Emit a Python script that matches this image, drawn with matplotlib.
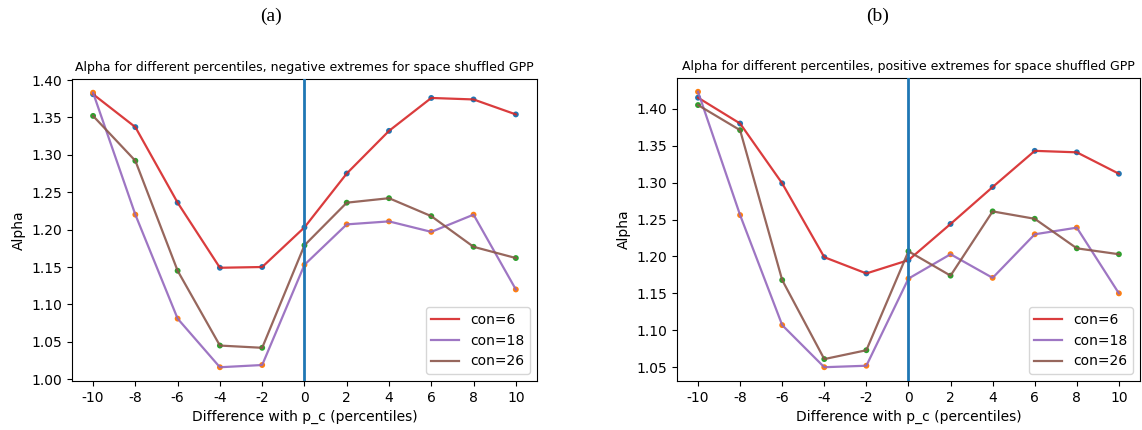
import matplotlib.pyplot as plt
import numpy as np

plt.rcParams['axes.unicode_minus'] = False

# percentile offsets from p_c
diff = [-10, -8, -6, -4, -2, 0, 2, 4, 6, 8, 10]
cons = ['con=6', 'con=18', 'con=26']

# (a) negative extremes
neg_con6 = [1.381, 1.337, 1.236, 1.149, 1.150, 1.203, 1.275, 1.332, 1.376, 1.374, 1.354]
neg_con18 = [1.383, 1.220, 1.081, 1.016, 1.019, 1.153, 1.207, 1.211, 1.197, 1.220, 1.120]
neg_con26 = [1.352, 1.292, 1.145, 1.045, 1.042, 1.179, 1.236, 1.242, 1.218, 1.177, 1.162]

# (b) positive extremes
pos_con6 = [1.415, 1.380, 1.299, 1.199, 1.177, 1.195, 1.244, 1.294, 1.343, 1.341, 1.312]
pos_con18 = [1.423, 1.256, 1.107, 1.050, 1.052, 1.170, 1.203, 1.171, 1.230, 1.239, 1.150]
pos_con26 = [1.405, 1.371, 1.168, 1.061, 1.073, 1.207, 1.174, 1.261, 1.251, 1.211, 1.203]

titles = ['Alpha for different percentiles, negative extremes for space shuffled GPP',
          'Alpha for different percentiles, positive extremes for space shuffled GPP']
panel_labels = ['(a)', '(b)']

line_colors = ['tab:red', 'tab:purple', 'tab:brown']
dot_colors = ['tab:blue', 'tab:orange', 'tab:green']

fig = plt.figure(figsize=(11.42, 4.30), dpi=100)
ax1 = fig.add_axes([0.0630, 0.114, 0.4072, 0.7023])
ax2 = fig.add_axes([0.5928, 0.114, 0.4054, 0.7046])

panels = [(ax1, [neg_con6, neg_con18, neg_con26]),
          (ax2, [pos_con6, pos_con18, pos_con26])]

for i, (ax, series) in enumerate(panels):
    for vals, lc, dc, name in zip(series, line_colors, dot_colors, cons):
        ax.scatter(diff, vals, s=18, color=dc, edgecolor='none', zorder=2)
        ax.plot(diff, vals, color=lc, lw=1.6, alpha=0.9, label=name, zorder=3)
    ax.axvline(0, color='tab:blue', lw=2, zorder=4)
    ax.set_xticks(diff)
    ax.set_xticklabels([str(d) for d in diff])
    ax.tick_params(labelsize=10)
    ax.set_xlabel('Difference with p_c (percentiles)', fontsize=10)
    ax.set_ylabel('Alpha', fontsize=10)
    ax.set_title(titles[i], fontsize=9)
    ax.legend(loc='lower right', fontsize=10)
    ax.yaxis.set_major_formatter(plt.FormatStrFormatter('%.2f'))

fig.text(0.2373, 0.962, panel_labels[0], ha='center', va='center',
         fontsize=14, family='Liberation Serif')
fig.text(0.7688, 0.962, panel_labels[1], ha='center', va='center',
         fontsize=14, family='Liberation Serif')

fig.savefig('out.png', dpi=100)
